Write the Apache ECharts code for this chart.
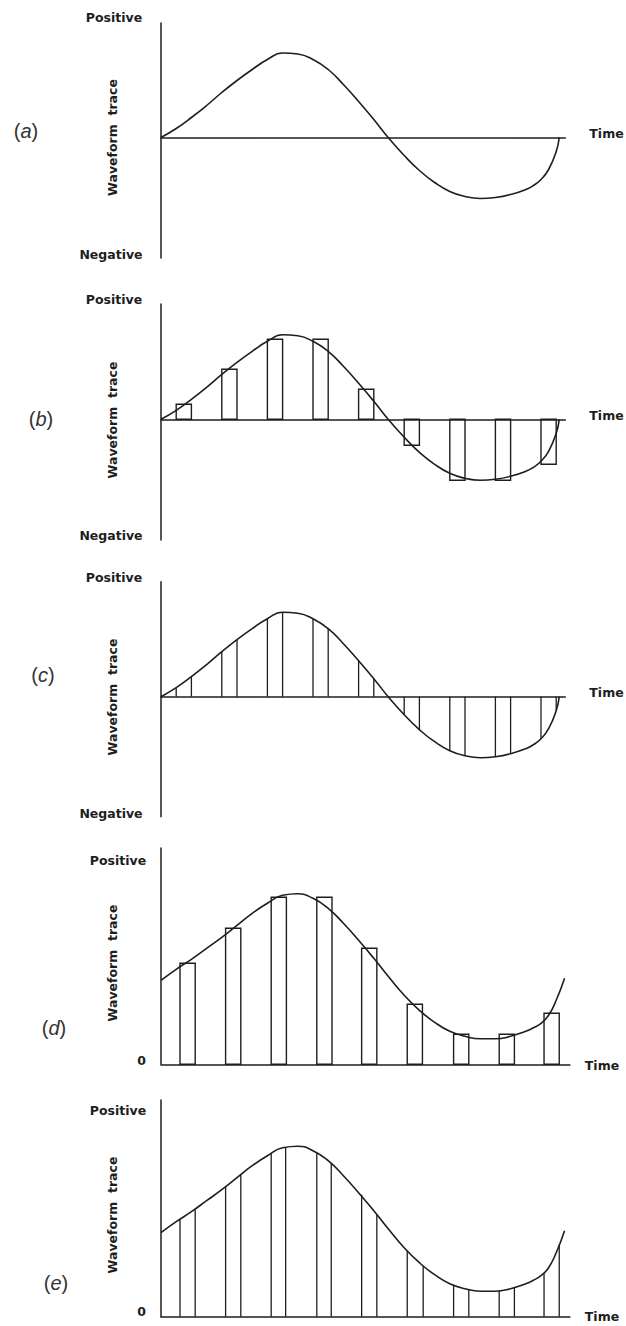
<!DOCTYPE html>
<html><head><meta charset="utf-8">
<script src="https://cdn.jsdelivr.net/npm/echarts@6/dist/echarts.min.js"></script>
<style>html,body{margin:0;padding:0;background:#fff}#c{width:626px;height:1326px}</style>
</head><body><div id="c"></div>
<script>
// ---- data ----
const curveATime  = [0,1,2,3,4,5,6,7,8,9,10,11,12,13,14,15,16,17,18,19,20,21,22,23,24,24.5,25,25.5,26,26.2];
const curveAValue = [0,9,20,32,45,57,68,78,84.5,83.5,78,68,53,36,18,-1,-18,-33,-45,-54,-59,-61,-60,-57,-52,-48,-42,-32,-14,0];

const bStart = [1,4,7,10,13,16,19,22,25];
const bValue = [15,50,80,80,30,-26,-61,-61,-45];

const cTime  = [1,2,4,5,7,8,10,11,13,14,16,17,19,20,22,23,25,26];
const cValue = [9,20,45,57,78,84.5,78,68,36,18,-18,-33,-54,-59,-60,-57,-42,-14];

const curveDTime  = [0,1,2,3,4,5,6,7,8,9,10,11,12,13,14,15,16,17,18,19,20,21,22,23,24,24.5,25,25.5,26,26.55];
const curveDValue = [84,95,105,116,127,139,151,161,169,170.5,166,156,141,124,106,87,69,54,42,33,28,25.5,25.5,28,33,36.5,41,49,64,86];

const dStart = [1.25,4.25,7.25,10.25,13.2,16.2,19.25,22.25,25.2];
const dValue = [101,136,167,167,116,60,30,30,51];

const eTime  = [1.25,2.25,4.25,5.25,7.25,8.2,10.25,11.2,13.2,14.2,16.2,17.25,19.25,20.25,22.25,23.25,25.2,26.2];
const eValue = [97,107,130,142,163,169,164,154,122,102,66,51,32,27,26,29,44,72];

const panelLetters = ['a','b','c','d','e'];
const labelPositive = 'Positive';
const labelNegative = 'Negative';
const labelTrace = 'Waveform  trace';
const labelTime = 'Time';
const labelZero = '0';

// ---- layout / style ----
const UNIT = 15.2;          // px per time unit
const HOLD = 1;             // sample-hold width in time units
const INK = '#1e1e1e';
const LEFT = 161;
const panels = [
  {top:23,    height:235,   min:-120.5, max:114.5, xMax:26.6, pos:[114,17.3],  neg:[111,254],   trace:[112.5,137.5], time:[606.5,133],   letter:[26,131],  zero:null},
  {top:304,   height:236,   min:-120.7, max:115.3, xMax:26.6, pos:[114,299.3], neg:[111,535],   trace:[112.5,420],   time:[606.5,415],   letter:[41,419],  zero:null},
  {top:581.7, height:235,   min:-120,   max:115,   xMax:26.6, pos:[114,577.3], neg:[111,813.3], trace:[112.5,697],   time:[606.5,692.7], letter:[43,675],  zero:null},
  {top:848,   height:216.3, min:0,      max:216.3, xMax:26.9, pos:[118,860],   neg:null,        trace:[112.5,963],   time:[602,1065],    letter:[54,1028], zero:[141.5,1060]},
  {top:1100,  height:216.7, min:0,      max:216.7, xMax:26.9, pos:[118,1110.7],neg:null,        trace:[112.5,1215],  time:[602,1316.7],  letter:[56,1283], zero:[141.5,1311.7]}
];

const zip = (a,b) => a.map((v,i)=>[v,b[i]]);

const grids=[], xAxes=[], yAxes=[], series=[], graphics=[];
const axisLine = {show:true, onZero:true, lineStyle:{color:INK, width:1.5}};
panels.forEach((p,i)=>{
  grids.push({left:LEFT, top:p.top, width:p.xMax*UNIT, height:p.height, containLabel:false});
  xAxes.push({type:'value', gridIndex:i, min:0, max:p.xMax, axisLine:axisLine, axisTick:{show:false}, axisLabel:{show:false}, splitLine:{show:false}});
  yAxes.push({type:'value', gridIndex:i, min:p.min, max:p.max, axisLine:axisLine, axisTick:{show:false}, axisLabel:{show:false}, splitLine:{show:false}});
});

function curveSeries(idx, t, v){
  return {type:'line', xAxisIndex:idx, yAxisIndex:idx, data:zip(t,v), smooth:0.5, showSymbol:false, symbol:'none',
          lineStyle:{color:INK, width:1.6}, z:5, silent:true, animation:false, clip:false};
}
function barSeries(idx, s, v){
  return {type:'custom', xAxisIndex:idx, yAxisIndex:idx, data:zip(s,v), encode:{x:0,y:1}, z:3, silent:true, animation:false,
    renderItem:(params, api)=>{
      const x0=api.value(0), val=api.value(1);
      const p0=api.coord([x0,0]), p1=api.coord([x0+HOLD,val]);
      return {type:'rect', shape:{x:p0[0], y:Math.min(p0[1],p1[1]), width:p1[0]-p0[0], height:Math.abs(p1[1]-p0[1])},
              style:{fill:'none', stroke:INK, lineWidth:1.4}};
    }};
}
function stemSeries(idx, t, v){
  return {type:'custom', xAxisIndex:idx, yAxisIndex:idx, data:zip(t,v), encode:{x:0,y:1}, z:3, silent:true, animation:false,
    renderItem:(params, api)=>{
      const x=api.value(0), val=api.value(1);
      const p0=api.coord([x,0]), p1=api.coord([x,val]);
      return {type:'line', shape:{x1:p0[0], y1:p0[1], x2:p1[0], y2:p1[1]}, style:{stroke:INK, lineWidth:1.3}};
    }};
}

series.push(curveSeries(0, curveATime, curveAValue));
series.push(curveSeries(1, curveATime, curveAValue));
series.push(barSeries(1, bStart, bValue));
series.push(curveSeries(2, curveATime, curveAValue));
series.push(stemSeries(2, cTime, cValue));
series.push(curveSeries(3, curveDTime, curveDValue));
series.push(barSeries(3, dStart, dValue));
series.push(curveSeries(4, curveDTime, curveDValue));
series.push(stemSeries(4, eTime, eValue));

const FONT = '"DejaVu Sans", "Liberation Sans", Arial, sans-serif';
const labFont = 'bold 12.5px ' + FONT;
function txt(text, xy, extra){
  return Object.assign({type:'text', x:xy[0], y:xy[1], silent:true,
    style:{text:text, font:labFont, fill:INK, align:'center', verticalAlign:'middle'}}, extra||{});
}
panels.forEach((p,i)=>{
  graphics.push(txt(labelPositive, p.pos));
  if(p.neg) graphics.push(txt(labelNegative, p.neg));
  if(p.zero) graphics.push(txt(labelZero, p.zero));
  graphics.push(txt(labelTime, p.time));
  graphics.push(txt(labelTrace, p.trace, {rotation:Math.PI/2}));
  graphics.push({type:'text', x:p.letter[0], y:p.letter[1], silent:true,
    style:{text:'{p|(}{i|'+panelLetters[i]+'}{p|)}', align:'center', verticalAlign:'middle',
      rich:{p:{font:'20px "Liberation Sans", Arial, sans-serif', fill:'#333'},
            i:{font:'italic 20px "Liberation Sans", Arial, sans-serif', fill:'#333'}}}});
});

const chart = echarts.init(document.getElementById('c'), null, {renderer:'svg', width:626, height:1326});
chart.setOption({animation:false, backgroundColor:'#fff', grid:grids, xAxis:xAxes, yAxis:yAxes, series:series, graphic:{elements:graphics}});
</script>
</body></html>
